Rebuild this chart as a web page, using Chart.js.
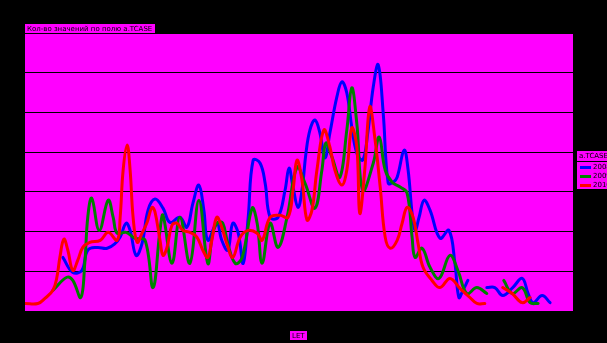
<!DOCTYPE html>
<html>
<head>
<meta charset="utf-8">
<script src="https://cdn.jsdelivr.net/npm/chart.js@4.4.0/dist/chart.umd.min.js"></script>
<style>
    html, body { margin: 0; padding: 0; background: #000; }
    canvas { display: block; }
</style>
</head>
<body>
<canvas id="chart" width="607" height="343"></canvas>
<script>
// Texts
const chartTitle = 'Кол-во значений по полю a.TCASE';
const legendTitle = 'a.TCASE';
const seriesNames = ['2008', '2009', '2010'];
const xTitle = 'LET';

// Series (null = break in the line)
const blueX = [7.6, 9.6, 11.4, 12.6, 14.5, 16.5, 18.1, 19.1, 20.3, 21.1, 22.3, 23.5, 24.7, 26.1, 27.7, 29.1, 31.1, 32.5, 33.7, 34.9,
    35.9, 36.7, 38.5, 39.5, 40.7, 41.7, 42.8, 43.8, 44.8, 45.8, 47.2, 48.2, 49.2, 50.8, 52.2, 53.0, 53.8, 54.8, 55.6, 56.4,
    57.2, 58.2, 59.2, 60.2, 61.2, 62.6, 63.6, 64.6, 65.6, 66.6, 67.8, 68.8, 69.9, 70.9, 71.9, 72.9, 73.9, 74.7, 76.1, 76.9,
    77.7, 78.3, 79.1, 80.1, 81.3, 83.3, 85.1, 86.3, 87.1, 87.9, 88.9, 90.8, 92.7, 94.3, 95.9, 97.9, 99.8, 101.0, 102.0, 103.8, 105.4];
const blueY = [13.5, 9.7, 10.2, 15.3, 16.0, 15.8, 17.0, 18.6, 22.1, 20.3, 14.0, 17.0, 25.4, 28.2, 25.9, 22.3, 23.6, 21.1, 27.1, 31.7,
    25.4, 17.8, 22.1, 17.8, 15.3, 22.1, 19.6, 12.0, 23.6, 38.0, 37.2, 32.2, 23.6, 23.6, 30.4, 36.0, 31.2, 26.1, 30.4, 39.8,
    45.6, 48.1, 44.8, 38.5, 44.8, 53.9, 57.7, 54.9, 46.3, 39.8, 38.0, 44.8, 56.4, 62.0, 49.9, 32.2, 32.4, 33.7, 40.5, 35.5,
    24.6, 20.3, 23.6, 27.9, 25.4, 18.3, 20.3, 12.0, 3.4, 5.2, 7.7, null, 5.9, 5.9, 3.9, 5.9, 8.2, 4.4, 2.1, 3.9, 2.1];

const greenX = [5.6, 8.4, 9.6, 11.2, 12.0, 12.6, 13.4, 14.9, 16.7, 17.7, 18.5, 20.3, 22.1, 24.1, 25.7, 27.1, 27.7, 29.5, 31.1, 33.1,
    34.9, 36.7, 37.7, 38.7, 39.7, 40.7, 42.2, 43.6, 45.6, 46.6, 47.6, 49.2, 50.8, 52.6, 54.6, 56.2, 58.2, 59.6, 60.4, 61.6,
    63.2, 64.6, 65.6, 66.6, 67.8, 69.9, 71.1, 72.3, 73.7, 75.3, 76.7, 77.7, 78.3, 79.7, 81.3, 83.1, 85.3, 86.9, 88.7, 90.7,
    92.7, 94.4, 96.1, 97.8, 99.8, 101.4, 103.0];
const greenY = [5.2, 8.5, 7.7, 3.4, 12.0, 23.6, 28.4, 20.3, 27.9, 23.6, 19.6, 19.8, 18.3, 17.8, 5.9, 20.3, 24.1, 12.0, 23.6, 12.0,
    27.9, 12.0, 19.6, 22.3, 22.1, 17.0, 12.0, 13.5, 25.9, 22.1, 12.0, 22.1, 16.0, 23.6, 36.2, 32.2, 25.9, 35.5, 42.3, 38.8,
    33.7, 45.6, 56.2, 47.3, 30.4, 37.2, 43.8, 35.5, 32.4, 31.2, 29.7, 18.6, 13.5, 15.8, 11.0, 8.2, 14.0, 10.2, 4.4, 5.9,
    4.4, null, 7.7, 4.4, 5.9, 2.1, 1.9];

const redX = [0, 2.6, 4.0, 5.6, 6.4, 7.0, 7.8, 8.6, 9.6, 10.6, 11.6, 13.0, 15.1, 16.7, 18.5, 19.1, 19.7, 20.5, 21.1, 21.7,
    22.5, 23.5, 24.5, 25.5, 26.1, 27.1, 27.7, 28.5, 29.5, 30.5, 31.7, 33.1, 34.5, 35.7, 36.7, 37.5, 38.5, 39.5, 40.5, 41.7,
    43.2, 44.8, 46.6, 47.6, 49.2, 51.2, 52.8, 53.8, 54.6, 55.6, 56.6, 57.6, 58.6, 60.0, 61.2, 62.2, 63.6, 64.6, 65.6, 66.6,
    67.2, 68.2, 69.2, 70.2, 71.3, 72.3, 73.3, 74.7, 75.7, 76.7, 77.9, 78.9, 79.9, 81.7, 83.3, 85.3, 87.3, 89.3, 90.7, 92.3,
    94.0, 95.9, 97.8, 99.8, 101.4];
const redY = [1.9, 1.9, 3.2, 5.2, 8.5, 13.5, 18.1, 15.3, 10.2, 12.8, 16.0, 17.3, 17.8, 19.8, 17.8, 23.6, 35.5, 41.8, 35.5, 23.6,
    17.3, 19.6, 22.3, 26.1, 24.9, 17.8, 14.0, 16.0, 21.6, 22.1, 20.3, 19.8, 18.6, 15.3, 13.5, 17.8, 23.6, 21.1, 17.0, 13.5,
    18.6, 20.3, 19.6, 17.8, 23.6, 24.1, 23.6, 30.4, 38.0, 32.9, 22.9, 25.4, 35.5, 45.6, 41.3, 35.5, 31.7, 35.5, 46.1, 41.3,
    24.6, 35.5, 51.4, 43.8, 31.2, 18.6, 15.8, 17.8, 22.1, 26.1, 23.6, 17.0, 11.0, 7.7, 5.9, 8.2, 5.7, 3.4, 1.9, 1.9,
    null, 5.9, 4.4, 2.1, 3.4];

function toPoints(xs, ys) {
    return xs.map((x, i) => ({ x: x, y: ys[i] }));
}

const seriesColors = ['#0000ff', '#008000', '#ff0000'];

// Magenta plot area, plus the boxed labels the original uses
function boxedText(ctx, text, x, y, h) {
    const w = Math.ceil(ctx.measureText(text).width) + 6;
    ctx.fillStyle = '#ff00ff';
    ctx.fillRect(x, y, w, h);
    ctx.strokeStyle = '#000';
    ctx.lineWidth = 1;
    ctx.strokeRect(x + 0.5, y + 0.5, w - 1, h - 1);
    ctx.fillStyle = '#000';
    ctx.fillText(text, x + 3, y + h / 2 + 0.5);
    return w;
}

const framePlugin = {
    id: 'frame',
    beforeDraw(chart) {
        const { ctx, chartArea: a } = chart;
        ctx.save();
        ctx.fillStyle = '#ff00ff';
        ctx.fillRect(a.left, a.top, a.right - a.left, a.bottom - a.top);
        ctx.restore();
    },
    afterDraw(chart) {
        const ctx = chart.ctx;
        ctx.save();
        ctx.font = '7px "DejaVu Sans"';
        ctx.textBaseline = 'middle';

        // title
        boxedText(ctx, chartTitle, 24, 23, 11);

        // x axis title
        const xw = ctx.measureText(xTitle).width + 6;
        boxedText(ctx, xTitle, Math.round(298 - xw / 2), 330, 11);

        // legend
        const lx = 576, ly = 150, lw = 40, lh = 40;
        ctx.fillStyle = '#ff00ff';
        ctx.fillRect(lx, ly, lw, lh);
        ctx.strokeStyle = '#000';
        ctx.strokeRect(lx + 0.5, ly + 0.5, lw - 1, lh - 1);
        ctx.beginPath();
        ctx.moveTo(lx, ly + 11.5);
        ctx.lineTo(lx + lw, ly + 11.5);
        ctx.stroke();
        ctx.fillStyle = '#000';
        ctx.fillText(legendTitle, lx + 3, ly + 6);
        seriesNames.forEach((name, i) => {
            const ry = ly + 17 + i * 9;
            ctx.fillStyle = seriesColors[i];
            ctx.fillRect(lx + 4, ry - 1, 11, 3);
            ctx.fillStyle = '#000';
            ctx.fillText(name, lx + 17, ry + 0.5);
        });
        ctx.restore();
    }
};

const ctx = document.getElementById('chart').getContext('2d');

new Chart(ctx, {
    type: 'line',
    data: {
        datasets: [
            {
                label: seriesNames[0],
                data: toPoints(blueX, blueY),
                borderColor: seriesColors[0],
                order: 2
            },
            {
                label: seriesNames[1],
                data: toPoints(greenX, greenY),
                borderColor: seriesColors[1],
                order: 1
            },
            {
                label: seriesNames[2],
                data: toPoints(redX, redY),
                borderColor: seriesColors[2],
                order: 0
            }
        ]
    },
    options: {
        responsive: false,
        animation: false,
        devicePixelRatio: 1,
        spanGaps: false,
        layout: {
            padding: { left: 25, right: 34, top: 33, bottom: 32 }
        },
        elements: {
            line: {
                borderWidth: 3,
                tension: 0.4,
                borderCapStyle: 'round',
                borderJoinStyle: 'round'
            },
            point: { radius: 0 }
        },
        scales: {
            x: {
                type: 'linear',
                min: 0,
                max: 110,
                display: false
            },
            y: {
                min: 0,
                max: 70,
                ticks: { display: false, stepSize: 10 },
                grid: { color: '#000', lineWidth: 1, drawTicks: false },
                border: { display: false }
            }
        },
        plugins: {
            legend: { display: false },
            title: { display: false },
            tooltip: { enabled: false }
        }
    },
    plugins: [framePlugin]
});
</script>
</body>
</html>
